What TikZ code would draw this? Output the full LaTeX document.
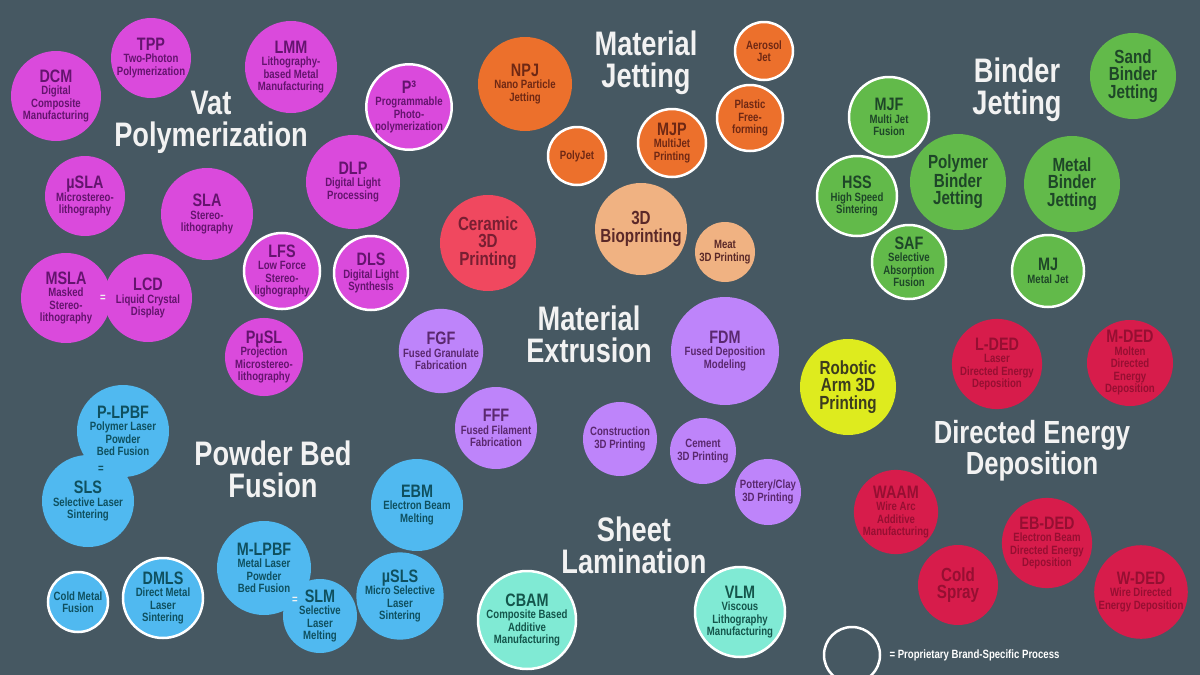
\documentclass[tikz,border=0pt]{standalone}
\usepackage{fontspec}
\setmainfont{Liberation Sans}[FakeStretch=0.8]
\usetikzlibrary{shapes}
\definecolor{slate}{RGB}{70,88,98}
\definecolor{offwhite}{RGB}{242,242,242}
\definecolor{vatfill}{RGB}{218,74,220}
\definecolor{vattext}{RGB}{100,20,110}
\definecolor{jetfill}{RGB}{236,112,44}
\definecolor{jettext}{RGB}{110,40,20}
\definecolor{cerfill}{RGB}{240,72,95}
\definecolor{certext}{RGB}{120,30,50}
\definecolor{biofill}{RGB}{240,178,130}
\definecolor{biotext}{RGB}{90,40,40}
\definecolor{bindfill}{RGB}{98,186,74}
\definecolor{bindtext}{RGB}{30,70,40}
\definecolor{extrfill}{RGB}{190,132,250}
\definecolor{extrtext}{RGB}{90,40,110}
\definecolor{sheetfill}{RGB}{128,234,212}
\definecolor{sheettext}{RGB}{20,85,75}
\definecolor{robofill}{RGB}{222,235,30}
\definecolor{robotext}{RGB}{60,60,30}
\definecolor{dedfill}{RGB}{215,28,75}
\definecolor{dedtext}{RGB}{150,15,50}
\definecolor{pbffill}{RGB}{80,185,240}
\definecolor{pbftext}{RGB}{15,80,95}
\newcommand{\desc}{\fontsize{12}{12.5}\selectfont}
\newcommand{\bigword}{\fontsize{19}{17.5}\selectfont}
\newcommand{\headsize}{\fontsize{34}{32}\selectfont}
\newcommand{\abbr}[1]{{\fontsize{18}{18}\selectfont #1}}

\begin{document}
\begin{tikzpicture}[x=1pt,y=-1pt]
    \tikzset{bubble/.style={circle, inner sep=0pt, align=center, font=\desc\bfseries}}
    \tikzset{bigtext/.style={font=\bigword\bfseries}}
    \tikzset{brand/.style={draw=white, line width=2.5pt}}
    \tikzset{headline/.style={text=offwhite, align=center, font=\headsize\bfseries}}
    \tikzset{vat/.style={bubble, fill=vatfill, text=vattext, minimum size=2*#1pt}}
    \tikzset{jet/.style={bubble, fill=jetfill, text=jettext, minimum size=2*#1pt}}
    \tikzset{ceramic/.style={bubble, fill=cerfill, text=certext, minimum size=2*#1pt}}
    \tikzset{bio/.style={bubble, fill=biofill, text=biotext, minimum size=2*#1pt}}
    \tikzset{binder/.style={bubble, fill=bindfill, text=bindtext, minimum size=2*#1pt}}
    \tikzset{extr/.style={bubble, fill=extrfill, text=extrtext, minimum size=2*#1pt}}
    \tikzset{sheet/.style={bubble, fill=sheetfill, text=sheettext, minimum size=2*#1pt}}
    \tikzset{robot/.style={bubble, fill=robofill, text=robotext, minimum size=2*#1pt}}
    \tikzset{ded/.style={bubble, fill=dedfill, text=dedtext, minimum size=2*#1pt}}
    \tikzset{pbf/.style={bubble, fill=pbffill, text=pbftext, minimum size=2*#1pt}}
    \tikzset{eq/.style={inner sep=0pt, font=\desc\bfseries}}

    \useasboundingbox (0,0) rectangle (1200,675);
    \clip (0,0) rectangle (1200,675);
    \fill[slate] (0,0) rectangle (1200,675);

    % vat polymerization
    \node[vat=45] (DCM) at (56,96) {\abbr{DCM}\\Digital\\Composite\\Manufacturing};
    \node[vat=40] (TPP) at (151,58) {\abbr{TPP}\\Two-Photon\\Polymerization};
    \node[vat=46] (LMM) at (291,67) {\abbr{LMM}\\Lithography-\\based Metal\\Manufacturing};
    \node[vat=39,brand] (P3) at (409,107) {\abbr{P³}\\Programmable\\Photo-\\polymerization};
    \node[vat=40] (muSLA) at (85,196) {\abbr{µSLA}\\Microstereo-\\lithography};
    \node[vat=46] (SLA) at (207,214) {\abbr{SLA}\\Stereo-\\lithography};
    \node[vat=47] (DLP) at (353,182) {\abbr{DLP}\\Digital Light\\Processing};
    \node[vat=36,brand] (LFS) at (282,271) {\abbr{LFS}\\Low Force\\Stereo-\\lighography};
    \node[vat=37,brand] (DLS) at (371,273) {\abbr{DLS}\\Digital Light\\Synthesis};
    \node[vat=45] (MSLA) at (66,298) {\abbr{MSLA}\\Masked\\Stereo-\\lithography};
    \node[vat=44] (LCD) at (148,298) {\abbr{LCD}\\Liquid Crystal\\Display};
    \node[eq, text=offwhite] (eqLCD) at (103,298) {=};
    \node[vat=39] (PuSL) at (264,357) {\abbr{PµSL}\\Projection\\Microstereo-\\lithography};
    \node[headline] (tVat) at (211,122) {Vat\\Polymerization};

    % material jetting
    \node[jet=47] (NPJ) at (525,84) {\abbr{NPJ}\\Nano Particle\\Jetting};
    \node[jet=29,brand] (PolyJet) at (577,156) {PolyJet};
    \node[jet=34,brand] (MJP) at (672,143) {\abbr{MJP}\\MultiJet\\Printing};
    \node[jet=29,brand] (AJ) at (764,51) {Aerosol\\Jet};
    \node[jet=33,brand] (PFF) at (750,118) {Plastic\\Free-\\forming};
    \node[headline] (tJet) at (646,63) {Material\\Jetting};

    \node[ceramic=48,bigtext] (C3DP) at (488,243) {Ceramic\\3D\\Printing};
    \node[bio=46,bigtext] (Bio) at (641,229) {3D\\Bioprinting};
    \node[bio=30] (Meat) at (725,252) {Meat\\3D Printing};

    % binder jetting
    \node[binder=43,bigtext] (SBJ) at (1133,76) {Sand\\Binder\\Jetting};
    \node[binder=40,brand] (MJF) at (889,117) {\abbr{MJF}\\Multi Jet\\Fusion};
    \node[binder=40,brand] (HSS) at (857,196) {\abbr{HSS}\\High Speed\\Sintering};
    \node[binder=48,bigtext] (PBJ) at (958,182) {Polymer\\Binder\\Jetting};
    \node[binder=48,bigtext] (MBJ) at (1072,184) {Metal\\Binder\\Jetting};
    \node[binder=37,brand] (SAF) at (909,262) {\abbr{SAF}\\Selective\\Absorption\\Fusion};
    \node[binder=36,brand] (MJ) at (1048,271) {\abbr{MJ}\\Metal Jet};
    \node[headline] (tBind) at (1017,90) {Binder\\Jetting};

    % material extrusion
    \node[extr=41] (FGF) at (441,351) {\abbr{FGF}\\Fused Granulate\\Fabrication};
    \node[extr=54] (FDM) at (725,351) {\abbr{FDM}\\Fused Deposition\\Modeling};
    \node[extr=41] (FFF) at (496,428) {\abbr{FFF}\\Fused Filament\\Fabrication};
    \node[extr=37] (Constr) at (620,439) {Construction\\3D Printing};
    \node[extr=33] (Cement) at (703,451) {Cement\\3D Printing};
    \node[extr=33] (Clay) at (768,492) {Pottery/Clay\\3D Printing};
    \node[headline] (tExtr) at (589,334) {Material\\Extrusion};

    % sheet lamination
    \node[sheet=49,brand] (CBAM) at (527,620) {\abbr{CBAM}\\Composite Based\\Additive\\Manufacturing};
    \node[sheet=45,brand] (VLM) at (740,612) {\abbr{VLM}\\Viscous\\Lithography\\Manufacturing};
    \node[headline] (tSheet) at (634,545) {Sheet\\Lamination};

    \node[robot=48,bigtext] (RA3D) at (848,387) {Robotic\\Arm 3D\\Printing};

    % directed energy deposition
    \node[ded=44] (LDED) at (997,364) {\abbr{L-DED}\\Laser\\Directed Energy\\Deposition};
    \node[ded=43] (MDED) at (1130,363) {\abbr{M-DED}\\Molten\\Directed\\Energy\\Deposition};
    \node[ded=41] (WAAM) at (896,512) {\abbr{WAAM}\\Wire Arc\\Additive\\Manufacturing};
    \node[ded=45] (EBDED) at (1047,543) {\abbr{EB-DED}\\Electron Beam\\Directed Energy\\Deposition};
    \node[ded=40,bigtext] (CS) at (958,585) {Cold\\Spray};
    \node[ded=46] (WDED) at (1141,592) {\abbr{W-DED}\\Wire Directed\\Energy Deposition};
    \node[headline, font=\fontsize{32}{31}\selectfont\bfseries] (tDED) at (1032,451) {Directed Energy\\Deposition};

    % powder bed fusion
    \node[pbf=46] (PLPBF) at (123,431) {\abbr{P-LPBF}\\Polymer Laser\\Powder\\Bed Fusion};
    \node[pbf=46] (SLS) at (88,501) {\abbr{SLS}\\Selective Laser\\Sintering};
    \node[eq, text=pbftext] (eqSLS) at (101,469) {=};
    \node[pbf=46] (EBM) at (417,505) {\abbr{EBM}\\Electron Beam\\Melting};
    \node[pbf=47] (MLPBF) at (264,568) {\abbr{M-LPBF}\\Metal Laser\\Powder\\Bed Fusion};
    \node[pbf=37] (SLM) at (320,616) {\abbr{SLM}\\Selective\\Laser\\Melting};
    \node[eq, text=offwhite] (eqSLM) at (295,600) {=};
    \node[pbf=40] (muSLS) at (400,596) {\abbr{µSLS}\\Micro Selective\\Laser\\Sintering};
    \node[pbf=30,brand] (CMF) at (78,602) {Cold Metal\\Fusion};
    \node[pbf=40,brand] (DMLS) at (163,598) {\abbr{DMLS}\\Direct Metal\\Laser\\Sintering};
    \node[headline] (tPBF) at (273,469) {Powder Bed\\Fusion};

    % key
    \node[circle, draw=white, line width=2.5pt, minimum size=56pt] (key) at (852,655) {};
    \node[anchor=west, text=white, font=\desc\bfseries] (keytext) at (886,655) {= Proprietary Brand-Specific Process};
\end{tikzpicture}
\end{document}
